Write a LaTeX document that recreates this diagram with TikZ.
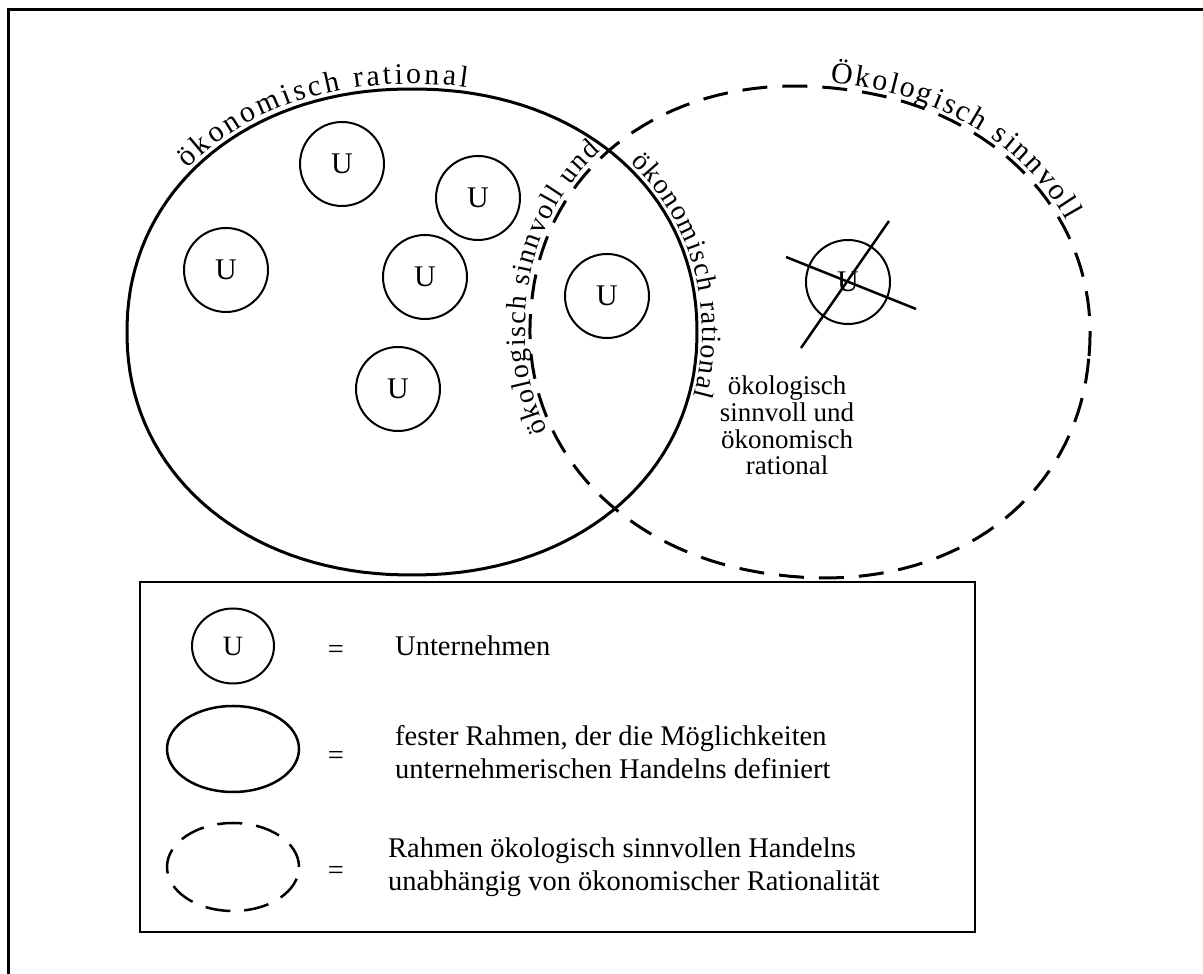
\documentclass[tikz,border=0pt]{standalone}
\usepackage{fontspec}
\setmainfont{Liberation Serif}
\usetikzlibrary{decorations.text,shapes.geometric}
\newcommand\curvfont{\fontsize{30}{30}\selectfont}
\newcommand\innfont{\fontsize{28}{28}\selectfont}
\newcommand\legfont{\fontsize{28.5}{33}\selectfont}
\begin{document}
\begin{tikzpicture}[x=1pt,y=1pt,
  declare function={sx(\t)=sign(cos(\t))*abs(cos(\t))^0.95;
                    sy(\t)=sign(sin(\t))*abs(sin(\t))^0.95;
                    ex(\t)=810+278.5*sx(\t)+25.6*sy(\t);
                    ey(\t)=642-29.3*sx(\t)+243.7*sy(\t);},
  unode/.style={circle, draw, line width=2pt, minimum size=84pt, inner sep=0pt, font=\fontsize{30}{30}\selectfont},
  bigsolid/.style={line width=3pt},
  bigdash/.style={line width=3pt, dash pattern=on 25pt off 15pt},
  frameline/.style={line width=2.5pt},
  crossline/.style={line width=2.5pt},
  legtext/.style={anchor=west, inner sep=0pt, align=left, font=\legfont},
  eqsign/.style={inner sep=0pt, font=\legfont},
  curvetext/.style={decorate, decoration={text along path, text align={fit to path}, raise=5pt}}
]
\useasboundingbox (0,0) rectangle (1203,974);
% frame
\coordinate (fbl) at (8.5,0);
\coordinate (ftl) at (8.5,964.5);
\coordinate (ftr) at (1203,964.5);
\draw[frameline] (fbl) -- (ftl) -- (ftr);

% big shapes
\draw[bigsolid] plot[domain=1:361, samples=145, variable=\t] ({412+285*sx(\t)}, {642+243*sy(\t)}) -- cycle;
\draw[bigdash] plot[domain=1:361, samples=145, variable=\t] ({ex(\t)}, {ey(\t)}) -- cycle;

% curved texts
\path[curvetext, decoration={text={|\curvfont|ökonomisch rational}}]
  plot[domain=140:80, samples=40, variable=\t] ({412+285*sx(\t)}, {642+243*sy(\t)});
\path[curvetext, decoration={text={|\innfont|ökonomisch rational}}]
  plot[domain=42:-14, samples=40, variable=\t] ({412+285*sx(\t)}, {642+243*sy(\t)});
\path[curvetext, decoration={text={|\curvfont|Ökologisch sinnvoll}}]
  plot[domain=91:32, samples=40, variable=\t] ({ex(\t)}, {ey(\t)});
\path[curvetext, decoration={text={|\innfont|ökologisch sinnvoll und}}]
  plot[domain=209:142, samples=40, variable=\t] ({ex(\t)}, {ey(\t)});

% companies
\node[unode] (u1) at (342,810) {U};
\node[unode] (u2) at (478,776) {U};
\node[unode] (u3) at (226,704) {U};
\node[unode] (u4) at (425,697) {U};
\node[unode] (u5) at (607,678) {U};
\node[unode] (u6) at (398,585) {U};
\node[unode] (u7) at (848,692) {U};
\coordinate (c1a) at (786,717);
\coordinate (c1b) at (916,665);
\coordinate (c2a) at (889,753);
\coordinate (c2b) at (801,626);
\draw[crossline] (c1a) -- (c1b);
\draw[crossline] (c2a) -- (c2b);

\node[align=center, inner sep=0pt, font=\fontsize{27}{26.7}\selectfont] (lab) at (787,548.5)
  {ökologisch\\sinnvoll und\\ökonomisch\\rational};

% legend
\node[draw, line width=2.5pt, minimum width=835pt, minimum height=350pt, inner sep=0pt] (legend) at (557.5,217) {};
\node[draw, ellipse, line width=2pt, minimum width=82pt, minimum height=75pt, inner sep=0pt,
      font=\fontsize{28}{28}\selectfont] (lu) at (233,328) {U};
\node[draw, ellipse, line width=2.5pt, minimum width=132pt, minimum height=86pt] (ls) at (233,225) {};
\node[draw, ellipse, line width=2.5pt, dash pattern=on 25pt off 14pt, minimum width=132pt, minimum height=88pt] (ld) at (233,107) {};
\node[eqsign] (e1) at (336,322) {=};
\node[eqsign] (e2) at (336,216) {=};
\node[eqsign] (e3) at (336,101) {=};
\node[legtext] (t1) at (395,328) {Unternehmen};
\node[legtext] (t2) at (395,222) {fester Rahmen, der die Möglichkeiten\\unternehmerischen Handelns definiert};
\node[legtext] (t3) at (388,107) {Rahmen ökologisch sinnvollen Handelns\\unabhängig von ökonomischer Rationalität};
\end{tikzpicture}
\end{document}
